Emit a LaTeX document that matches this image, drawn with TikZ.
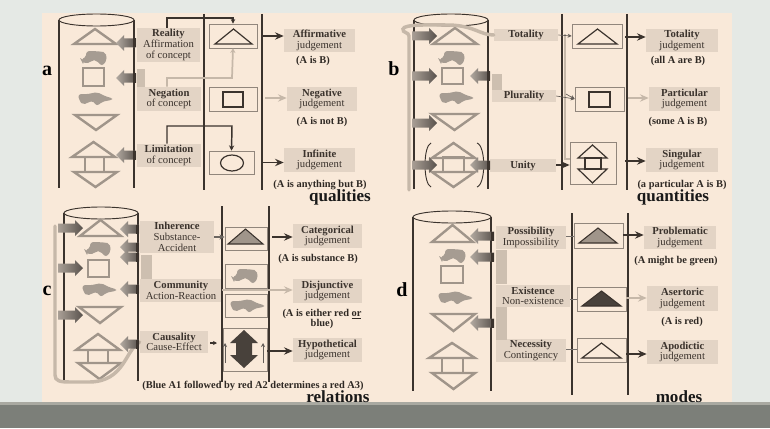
\documentclass[tikz,border=0pt]{standalone}
\usepackage{fontspec}
\setmainfont{Liberation Serif}
\usetikzlibrary{arrows.meta}
\definecolor{pagegrey}{HTML}{E5E9E5}
\definecolor{cream}{HTML}{F9E9D9}
\definecolor{barcol}{HTML}{7C7F79}
\definecolor{barlight}{HTML}{A9A9A1}
\definecolor{lblcol}{HTML}{E3D4C5}
\definecolor{ink}{HTML}{3B332D}
\definecolor{shapecol}{HTML}{A0958A}
\definecolor{soft}{HTML}{C6B8A9}
\definecolor{blobcol}{HTML}{A69C92}
\definecolor{midfill}{HTML}{A0958A}
\definecolor{darkfill}{HTML}{48413B}
\tikzset{
  wall/.style={draw=ink,line width=0.8pt},
  cylcap/.style={draw=ink,line width=0.7pt,fill=cream},
  thick shape/.style={draw=shapecol,line width=1.8pt,line join=miter},
  inner shape/.style={draw=ink,line width=0.9pt},
  lblbox/.style={fill=lblcol,inner sep=0pt,align=center,text=ink,font=\fontsize{8}{8}\selectfont},
  framebox/.style={draw=shapecol!85!ink,line width=0.5pt,inner sep=0pt},
  plain text/.style={inner sep=0pt,align=center,text=ink!80!black,font=\bfseries\fontsize{7.8}{8}\selectfont},
  heading/.style={inner sep=0pt,text=black!90,font=\bfseries\fontsize{12.8}{14}\selectfont},
  panelletter/.style={inner sep=0pt,text=black,font=\bfseries\fontsize{15}{15}\selectfont},
  darkarrow/.style={draw=ink,line width=1.1pt,-{Stealth[length=6.5pt,width=5.5pt]}},
  softarrow/.style={draw=soft,line width=1.2pt,-{Stealth[length=6.5pt,width=5.5pt]}},
  thinarrow/.style={draw=ink!80,line width=0.5pt,-{Stealth[length=3pt,width=3pt]}},
  softbar/.style={draw=soft,line width=2.6pt,line cap=round},
  softstrip/.style={fill=soft!75!lblcol},
  blobfill/.style={fill=blobcol,draw=blobcol,line width=1.2pt,rounded corners=1.5pt},
}
\newcommand{\lbl}[6]{\node[lblbox,minimum width={(#4-#2)*0.75pt},minimum height={(#5-#3)*0.75pt}] (#1) at ({(#2+#4)/2},{(#3+#5)/2}) {#6};}
\newcommand{\frm}[5]{\node[framebox,minimum width={(#4-#2)*0.75pt},minimum height={(#5-#3)*0.75pt}] (#1) at ({(#2+#4)/2},{(#3+#5)/2}) {};}
\newcommand{\tri}[5][thick shape]{\path[#1] (#2,#5) -- ({(#2+#3)/2},#4) -- (#3,#5) -- cycle;}
\newcommand{\sqr}[5][thick shape]{\path[#1] (#2,#3) rectangle (#4,#5);}
\newcommand{\arL}[3]{%
  \path[shade,left color=shapecol!80,right color=ink!85] (#1,#3) -- ({#1+8},{#3-8}) -- ({#1+8},{#3-4.5}) -- (#2,{#3-4.5}) -- (#2,{#3+4.5}) -- ({#1+8},{#3+4.5}) -- ({#1+8},{#3+8}) -- cycle;
  \path[fill=ink] ({#2-3},{#3-4.5}) rectangle (#2,{#3+4.5});}
\newcommand{\arR}[3]{%
  \path[shade,left color=shapecol!90,right color=ink!85] (#1,{#3-4.5}) -- ({#2-8},{#3-4.5}) -- ({#2-8},{#3-8}) -- (#2,#3) -- ({#2-8},{#3+8}) -- ({#2-8},{#3+4.5}) -- (#1,{#3+4.5}) -- cycle;}
\newcommand{\blobA}[2]{\path[blobfill,shift={(#1,#2)}] (-12,3) -- (-7,0) -- (-7,-5) -- (3,-5) -- (11,-4) -- (12,3) -- (8,8) -- (3,3) -- (-2,2) -- (-4,5) -- (-11,5) -- cycle;}
\newcommand{\blobB}[2]{\path[blobfill,shift={(#1,#2)}] (-16,-3) -- (-8,-3) -- (2,-5) -- (10,-1) -- (17,1) -- (7,3) -- (2,7) -- (-2,2) -- (-8,4) -- (-12,6) -- (-15,2) -- cycle;}
\newcommand{\cyl}[5]{% xl xr ytop ybot ry
  \draw[wall] (#1,#3) -- (#1,#4) (#2,#3) -- (#2,#4);
  \path[cylcap] ({(#1+#2)/2},#3) ellipse ({(#2-#1)/2} and #5);}
\begin{document}
\begin{tikzpicture}[x=0.75pt,y=-0.75pt]
\useasboundingbox (0,0) rectangle (770,428);
\path[fill=pagegrey] (0,0) rectangle (770,428);
\path[fill=cream] (42,13) rectangle (732,402);
\path[fill=barcol] (0,402) rectangle (770,428);
\path[fill=barlight] (0,402) rectangle (770,405);

% ===== panel a =====
\cyl{59}{134}{20}{188}{6}
\tri{74}{116}{29}{44}
\blobA{94}{57}
\sqr{83}{68}{104}{86}
\blobB{95}{98}
\tri{75}{117}{130}{115}
\tri{72}{115}{142}{157}
\sqr{85}{157}{104}{172}
\tri{74}{117}{187}{172}
\lbl{areal}{137}{28}{200}{62}{\textbf{Reality}\\Affirmation\\of concept}
\lbl{aneg}{137}{87}{201}{111}{\textbf{Negation}\\of concept}
\lbl{alim}{137}{144}{201}{167}{\textbf{Limitation}\\of concept}
\path[softstrip] (137,69) rectangle (145,87);
\arL{116}{136}{43}
\arL{116}{136}{78}
\arL{116}{136}{155}
\coordinate (al1t) at (204,14); \coordinate (al1b) at (204,190);
\coordinate (al2t) at (262,14); \coordinate (al2b) at (262,190);
\draw[wall] (al1t) -- (al1b); \draw[wall] (al2t) -- (al2b);
\frm{abox1}{209}{24}{257}{48}
\frm{abox2}{209}{87}{257}{111}
\frm{abox3}{209}{151}{254}{174}
\tri[inner shape]{215}{252}{29}{44}
\sqr[inner shape]{223}{92}{243}{107}
\path[inner shape] (232,163) ellipse (11.5 and 8);
\lbl{aaff}{284}{29}{355}{52}{\textbf{Affirmative}\\judgement}
\lbl{aneg2}{287}{87}{357}{111}{\textbf{Negative}\\judgement}
\lbl{ainf}{284}{148}{355}{172}{\textbf{Infinite}\\judgement}
\draw[draw=ink,line width=1pt,-{Stealth[length=3.5pt,width=3.5pt]}] (areal.north -| 167,0) |- (233,18) -- (abox1.north);
\draw[draw=soft,line width=1.3pt,-{Stealth[length=3.5pt,width=4pt]}] (aneg.north -| 167,0) |- (232,78) -- (abox1.south);
\draw[draw=ink,line width=1.1pt,-{Stealth[length=4pt,width=4pt]}] (alim.north -| 167,0) |- (232,126) -- (abox3.north);
\draw[darkarrow] (al2t |- abox1.east) -- (aaff.west |- abox1.east);
\draw[softarrow] (265,98) -- (aneg2.west |- 0,98);
\draw[darkarrow] (al2t |- abox3.east) -- (ainf.west |- abox3.east);
\node[plain text] (atx1) at (313,61) {(A is B)};
\node[plain text] (atx2) at (322,122) {(A is not B)};
\node[plain text] (atx3) at (320,185) {(A is anything but B)};
\node[heading] (ahead) at (340,197) {qualities};
\node[panelletter] (aletter) at (47,71) {a};

% ===== panel b =====
\cyl{414}{488}{20}{189}{6}
\tri{433}{477}{28}{44}
\blobA{452}{57}
\sqr{442}{68}{463}{84}
\blobB{456}{97}
\tri{432}{477}{130}{114}
\tri{432}{475}{143}{158}
\sqr{443}{157}{464}{172}
\tri{432}{475}{187}{172}
\draw[draw=ink,line width=0.7pt] (431,143) .. controls (423,146) and (423,184) .. (431,187);
\draw[draw=ink,line width=0.7pt] (477,143) .. controls (486,146) and (486,184) .. (477,187);
\lbl{btot}{494}{29}{558}{41}{\textbf{Totality}}
\lbl{bplu}{492}{90}{556}{102}{\textbf{Plurality}}
\lbl{buni}{490}{159}{556}{172}{\textbf{Unity}}
\path[softstrip] (492,74) rectangle (502,90);
\draw[softbar] (409,190) -- (409,36) .. controls (409,32) and (402,33) .. (403,29) .. controls (404,24) and (430,25) .. (450,25) .. controls (475,26) and (480,35) .. (btot.west);
\arR{412}{437}{36}
\arR{412}{437}{76}
\arR{412}{437}{123}
\arR{412}{437}{165}
\arL{470}{490}{76}
\arL{470}{490}{165}
\coordinate (bl1t) at (562,14); \coordinate (bl1b) at (562,190);
\coordinate (bl2t) at (627,14); \coordinate (bl2b) at (627,190);
\draw[wall] (bl1t) -- (bl1b); \draw[wall] (bl2t) -- (bl2b);
\frm{bbox1}{572}{24}{622}{48}
\frm{bbox2}{575}{87}{624}{111}
\frm{bbox3}{570}{142}{616}{184}
\tri[inner shape]{578}{617}{29}{44}
\sqr[inner shape]{589}{92}{610}{107}
\tri[inner shape]{578}{607}{145}{158}
\sqr[inner shape]{585}{158}{601}{169}
\tri[inner shape]{578}{607}{183}{169}
\lbl{brt1}{646}{29}{718}{52}{\textbf{Totality}\\judgement}
\lbl{brt2}{649}{87}{720}{111}{\textbf{Particular}\\judgement}
\lbl{brt3}{646}{148}{718}{172}{\textbf{Singular}\\judgement}
\draw[draw=soft,line width=1pt] (565,34) -- (565,159) -- (bbox3.west |- 0,159);
\draw[thinarrow] (btot.east) -- (bbox1.west);
\draw[thinarrow] (bplu.east) -- (bbox2.west);
\draw[thinarrow] (566,94) -- (bbox2.west);
\draw[darkarrow] (buni.east |- 0,165) -- (bbox3.west |- 0,165);
\draw[darkarrow] (625,37) -- (brt1.west |- 0,37);
\draw[softarrow] (628,98) -- (brt2.west |- 0,98);
\draw[darkarrow] (625,161) -- (brt3.west |- 0,161);
\node[plain text] (btx1) at (678,61) {(all A are B)};
\node[plain text] (btx2) at (678,122) {(some A is B)};
\node[plain text] (btx3) at (682,185) {(a particular A is B)};
\node[heading] (bhead) at (673,197) {quantities};
\node[panelletter] (bletter) at (394,69) {b};

% ===== panel c =====
\cyl{64}{138}{213}{381}{6}
\tri{80}{121}{220}{236}
\blobA{98}{248}
\sqr{88}{260}{109}{277}
\blobB{99}{289}
\tri{79}{121}{323}{307}
\tri{76}{120}{334}{350}
\sqr{88}{350}{108}{363}
\tri{78}{121}{379}{363}
\lbl{cinh}{140}{221}{214}{253}{\textbf{Inherence}\\Substance-\\Accident}
\lbl{ccom}{140}{279}{222}{302}{\textbf{Community}\\Action-Reaction}
\lbl{ccau}{140}{331}{208}{353}{\textbf{Causality}\\Cause-Effect}
\path[softstrip] (141,255) rectangle (152,279);
\draw[softbar] (55,226) -- (55,375) .. controls (55,381) and (60,382) .. (70,382) -- (90,382) .. controls (125,381) and (125,350) .. (ccau.west);
\arR{58}{83}{228}
\arR{58}{83}{268}
\arR{58}{83}{315}
\arL{120}{139}{229}
\arL{120}{139}{247}
\arL{120}{139}{257}
\arL{120}{139}{289}
\arL{120}{139}{344}
\coordinate (cl1t) at (222,206); \coordinate (cl1b) at (222,382);
\coordinate (cl2t) at (269,206); \coordinate (cl2b) at (269,382);
\draw[wall] (cl1t) -- (cl1b); \draw[wall] (cl2t) -- (cl2b);
\frm{cbox1}{225}{227}{267}{250}
\frm{cbox2}{225}{264}{267}{288}
\frm{cbox3}{225}{294}{267}{317}
\frm{cbox4}{223}{328}{267}{371}
\tri[draw=ink,line width=0.8pt,fill=midfill]{228}{263}{229}{244}
\blobA{245}{275}
\blobB{247}{305}
\path[fill=darkfill] (230,343) -- (244,330) -- (258,343) -- (252,343) -- (252,355) -- (258,355) -- (244,368) -- (230,355) -- (236,355) -- (236,343) -- cycle;
\draw[thinarrow] (225,363) -- (225,343);
\draw[thinarrow] (263,363) -- (263,343);
\lbl{crt1}{293}{224}{362}{248}{\textbf{Categorical}\\judgement}
\lbl{crt2}{293}{279}{362}{303}{\textbf{Disjunctive}\\judgement}
\lbl{crt3}{293}{338}{362}{362}{\textbf{Hypothetical}\\judgement}
\draw[draw=ink!75,line width=1pt,-{Stealth[length=4pt,width=4pt]}] (cinh.east |- 0,237) -- (cbox1.west |- 0,237);
\draw[softarrow] (ccom.east |- 0,290) -- (crt2.west |- 0,290);
\draw[draw=ink,line width=0.8pt,-{Stealth[length=3pt,width=3pt]}] (210,343) -- (217,343);
\draw[darkarrow] (272,237) -- (crt1.west |- 0,237);
\draw[darkarrow] (267,351) -- (crt3.west |- 0,351);
\node[plain text] (ctx1) at (318,259) {(A is substance B)};
\node[plain text] (ctx2) at (322,319) {(A is either red \underline{or}\\blue)};
\node[plain text] (ctx3) at (253,386) {(Blue A1 followed by red A2 determines a red A3)};
\node[heading] (chead) at (338,397) {relations};
\node[panelletter] (cletter) at (47,291) {c};

% ===== panel d =====
\cyl{413}{491}{217}{391}{6}
\tri{432}{473}{225}{242}
\blobA{453}{255}
\sqr{441}{266}{463}{283}
\blobB{455}{297}
\tri{432}{475}{331}{314}
\tri{429}{475}{343}{358}
\sqr{442}{358}{463}{373}
\tri{432}{475}{389}{373}
\lbl{dpos}{496}{226}{566}{249}{\textbf{Possibility}\\Impossibility}
\lbl{dexi}{496}{285}{570}{307}{\textbf{Existence}\\Non-existence}
\lbl{dnec}{496}{339}{566}{362}{\textbf{Necessity}\\Contingency}
\path[softstrip] (496,250) rectangle (507,284);
\path[softstrip] (496,307) rectangle (507,340);
\arL{470}{494}{236}
\arL{470}{494}{257}
\arL{470}{494}{323}
\coordinate (dl1t) at (572,213); \coordinate (dl1b) at (572,395);
\coordinate (dl2t) at (628,213); \coordinate (dl2b) at (628,395);
\draw[wall] (dl1t) -- (dl1b); \draw[wall] (dl2t) -- (dl2b);
\frm{dbox1}{574}{223}{623}{248}
\frm{dbox2}{577}{287}{626}{311}
\frm{dbox3}{577}{338}{626}{362}
\tri[draw=ink,line width=0.8pt,fill=midfill]{579}{617}{228}{243}
\tri[draw=ink,line width=0.8pt,fill=darkfill]{582}{621}{291}{306}
\tri[inner shape]{582}{621}{343}{358}
\lbl{drt1}{644}{226}{716}{249}{\textbf{Problematic}\\judgement}
\lbl{drt2}{647}{286}{718}{311}{\textbf{Asertoric}\\judgement}
\lbl{drt3}{647}{340}{718}{364}{\textbf{Apodictic}\\judgement}
\draw[draw=ink!70,line width=0.6pt] (dpos.east |- 0,236) -- (dbox1.west |- 0,236);
\draw[draw=ink!70,line width=0.6pt] (dexi.east |- 0,299) -- (dbox2.west |- 0,299);
\draw[draw=ink!70,line width=0.6pt] (dnec.east |- 0,349) -- (dbox3.west |- 0,349);
\draw[darkarrow] (dbox1.east |- 0,235) -- (drt1.west |- 0,235);
\draw[softarrow] (dbox2.east |- 0,298) -- (drt2.west |- 0,298);
\draw[darkarrow] (dbox3.east |- 0,354) -- (drt3.west |- 0,354);
\node[plain text] (dtx1) at (676,261) {(A might be green)};
\node[plain text] (dtx2) at (682,322) {(A is red)};
\node[heading] (dhead) at (679,397) {modes};
\node[panelletter] (dletter) at (402,290) {d};
\end{tikzpicture}
\end{document}
